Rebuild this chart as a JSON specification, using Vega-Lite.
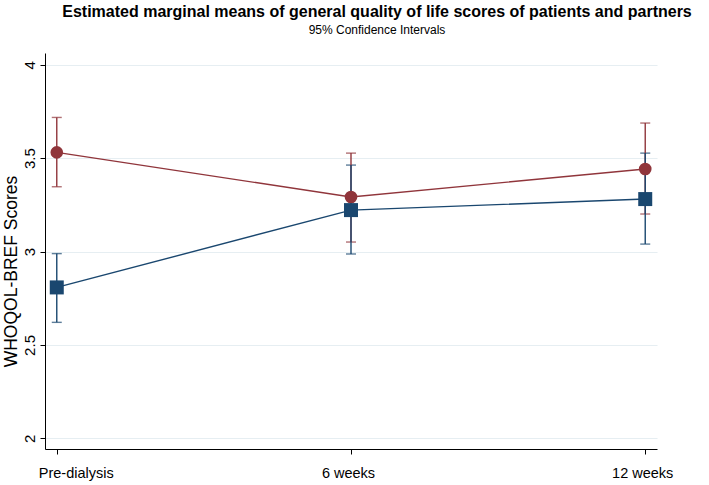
{
  "$schema": "https://vega.github.io/schema/vega-lite/v6.json",
  "width": 612,
  "height": 396,
  "autosize": {"type": "none"},
  "padding": {"left": 45, "top": 53, "right": 52, "bottom": 36},
  "background": "white",
  "title": {
    "text": "Estimated marginal means of general quality of life scores of patients and partners",
    "subtitle": "95% Confidence Intervals",
    "anchor": "middle",
    "dx": 26,
    "offset": 17,
    "font": "Liberation Sans",
    "fontSize": 16,
    "fontWeight": "bold",
    "color": "#000000",
    "subtitleFont": "Liberation Sans",
    "subtitleFontSize": 12,
    "subtitleColor": "#000000",
    "subtitlePadding": 5
  },
  "data": {
    "values": [
      {"group": "Partners", "time": "Pre-dialysis", "mean": 3.531, "lo": 3.347, "hi": 3.718},
      {"group": "Partners", "time": "6 weeks", "mean": 3.292, "lo": 3.051, "hi": 3.527},
      {"group": "Partners", "time": "12 weeks", "mean": 3.442, "lo": 3.201, "hi": 3.688},
      {"group": "Patients", "time": "Pre-dialysis", "mean": 2.808, "lo": 2.621, "hi": 2.989},
      {"group": "Patients", "time": "6 weeks", "mean": 3.222, "lo": 2.987, "hi": 3.463},
      {"group": "Patients", "time": "12 weeks", "mean": 3.281, "lo": 3.040, "hi": 3.527}
    ]
  },
  "encoding": {
    "x": {
      "field": "time",
      "type": "ordinal",
      "sort": ["Pre-dialysis", "6 weeks", "12 weeks"],
      "scale": {"type": "point", "padding": 0.04},
      "axis": {
        "title": null,
        "labelAngle": 0,
        "labelFont": "Liberation Sans",
        "labelFontSize": 14.5,
        "labelColor": "#000000",
        "labelPadding": 12,
        "tickSize": 5,
        "tickColor": "#000000",
        "domainColor": "#000000",
        "grid": false,
        "labelOffset": {"condition": {"test": "datum.label == 'Pre-dialysis'", "value": 19}, "value": -3}
      }
    },
    "color": {
      "field": "group",
      "type": "nominal",
      "scale": {"domain": ["Patients", "Partners"], "range": ["#1a476f", "#90353b"]},
      "legend": null
    }
  },
  "layer": [
    {
      "mark": {"type": "line", "strokeWidth": 1.4},
      "encoding": {
        "y": {
          "field": "mean",
          "type": "quantitative",
          "title": "WHOQOL-BREF Scores",
          "scale": {"domain": [1.943, 4.063], "nice": false, "zero": false},
          "axis": {
            "titleFont": "Liberation Sans",
            "titleFontSize": 17.5,
            "titleFontWeight": "normal",
            "titleColor": "#000000",
            "titlePadding": 2,
            "titleY": 218,
            "values": [2, 2.5, 3, 3.5, 4],
            "format": "~g",
            "labelAngle": -90,
            "labelAlign": "center",
            "labelBaseline": "bottom",
            "labelFont": "Liberation Sans",
            "labelFontSize": 15,
            "labelColor": "#000000",
            "labelPadding": 3,
            "tickSize": 5,
            "tickColor": "#000000",
            "domainColor": "#000000",
            "grid": true,
            "gridColor": "#e6eef2",
            "gridWidth": 1.2
          }
        }
      }
    },
    {
      "mark": {"type": "errorbar", "thickness": 1.4, "ticks": {"size": 10, "thickness": 1.4}},
      "encoding": {
        "y": {"field": "lo", "type": "quantitative", "title": "WHOQOL-BREF Scores"},
        "y2": {"field": "hi"}
      }
    },
    {
      "mark": {"type": "point", "filled": true, "opacity": 1},
      "encoding": {
        "y": {"field": "mean", "type": "quantitative", "title": "WHOQOL-BREF Scores"},
        "shape": {
          "field": "group",
          "type": "nominal",
          "scale": {"domain": ["Patients", "Partners"], "range": ["square", "circle"]},
          "legend": null
        },
        "size": {
          "field": "group",
          "type": "nominal",
          "scale": {"domain": ["Patients", "Partners"], "range": [196, 160]},
          "legend": null
        }
      }
    }
  ],
  "config": {
    "view": {"stroke": null},
    "axis": {"domainWidth": 1, "tickWidth": 1}
  }
}
